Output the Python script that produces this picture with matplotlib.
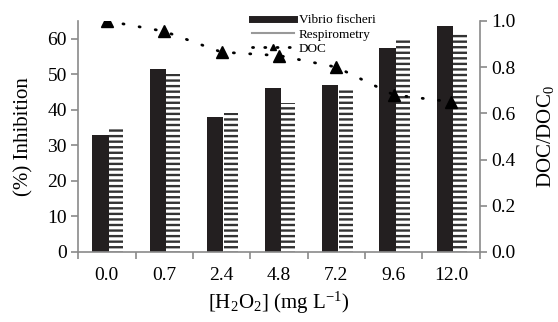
import numpy as np
import matplotlib
matplotlib.use('Agg')
import matplotlib.pyplot as plt
from matplotlib.lines import Line2D

plt.rcParams['font.family'] = ['Liberation Serif', 'DejaVu Serif']
plt.rcParams['mathtext.fontset'] = 'custom'
plt.rcParams['mathtext.rm'] = 'Liberation Serif'
plt.rcParams['mathtext.it'] = 'Liberation Serif:italic'
plt.rcParams['hatch.linewidth'] = 1.7

doses = ['0.0', '0.7', '2.4', '4.8', '7.2', '9.6', '12.0']
vibrio = [33, 51.5, 38, 46, 47, 57.5, 63.5]
respiro = [34.5, 50, 39, 42, 45.5, 59.5, 61.5]
doc = [1.0, 0.955, 0.865, 0.85, 0.80, 0.68, 0.65]

grey = '#8a8a8a'
x = np.arange(len(doses))
w = 0.28

fig = plt.figure(figsize=(5.58, 3.22), dpi=100)
ax = fig.add_axes([0.14, 0.2174, 0.72, 0.7176])

ax.bar(x - w / 2 + 0.03, vibrio, w, color='#231f20', linewidth=0)
ax.bar(x + w / 2 + 0.02, respiro, w * 0.88, color='white', edgecolor='#333333',
       hatch='---', linewidth=0)

ax.set_xlim(-0.5, len(doses) - 0.5)
ax.set_ylim(0, 65)
ax.set_yticks(range(0, 61, 10))
ax.set_xticks(x)
ax.set_xticklabels(doses)
ax.set_xticks(np.arange(-0.5, len(doses), 1), minor=True)
ax.tick_params(axis='x', which='major', length=0, pad=11, labelsize=14)
ax.tick_params(axis='x', which='minor', length=5, color=grey, width=1.2)
ax.tick_params(axis='y', length=5, color=grey, width=1.2, labelsize=14, pad=3)
for s in ['top', 'right']:
    ax.spines[s].set_visible(False)
for s in ['left', 'bottom']:
    ax.spines[s].set_color(grey)
    ax.spines[s].set_linewidth(1.2)
ax.set_ylabel('(%) Inhibition', fontsize=15, labelpad=10)
ax.set_xlabel(r'[H$_2$O$_2$] (mg L$^{\mathrm{-1}}$)', fontsize=15, labelpad=4)

ax2 = ax.twinx()
ax2.plot(x, doc, color='black', linestyle=(0, (0.4, 5.5)), linewidth=2.0,
         dash_capstyle='round', marker='^', markersize=8, markeredgecolor='black',
         markerfacecolor='black')
ax2.set_ylim(0, 1.0)
ax2.set_yticks(np.arange(0, 1.01, 0.2))
ax2.set_yticklabels(['%.1f' % v for v in np.arange(0, 1.01, 0.2)])
ax2.tick_params(axis='y', length=5, color=grey, width=1.2, labelsize=14, pad=3)
for s in ['top', 'left', 'bottom']:
    ax2.spines[s].set_visible(False)
ax2.spines['right'].set_color(grey)
ax2.spines['right'].set_linewidth(1.2)
ax2.set_ylabel('DOC/DOC$_0$', fontsize=15, labelpad=14)

handles = [
    Line2D([], [], color='#231f20', linewidth=5),
    Line2D([], [], color='#999999', linewidth=1.5),
    Line2D([], [], color='black', linestyle=(0, (0.4, 4)), linewidth=2,
           dash_capstyle='round', marker='^', markersize=5),
]
fig.legend(handles, ['Vibrio fischeri', 'Respirometry', 'DOC'],
           loc='upper left', bbox_to_anchor=(0.435, 0.985), frameon=False,
           fontsize=9.5, handlelength=3.2, handletextpad=0.35, labelspacing=0.15,
           borderpad=0.2)

fig.savefig('out.png', dpi=100)
